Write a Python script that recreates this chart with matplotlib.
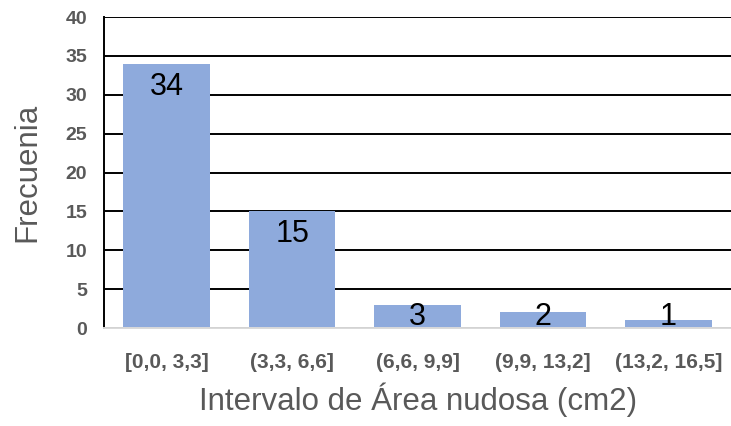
import numpy as np
import matplotlib.pyplot as plt

plt.rcParams['font.family'] = ['Liberation Sans', 'DejaVu Sans']

# Data
categories = ['[0,0, 3,3]', '(3,3, 6,6]', '(6,6, 9,9]', '(9,9, 13,2]', '(13,2, 16,5]']
frecuencia = [34, 15, 3, 2, 1]

bar_color = '#8eaadc'
grey = '#595959'

fig = plt.figure(figsize=(7.31, 4.26), dpi=100)
ax = fig.add_axes([0.1423, 0.230, 0.858, 0.730])

x = np.arange(len(categories))
ax.bar(x, frecuencia, width=0.69, color=bar_color, zorder=2)

ax.set_xlim(-0.5, len(categories) - 0.5)
ax.set_ylim(0, 40)
ax.set_yticks(np.arange(0, 41, 5))
ax.yaxis.grid(True, color='black', lw=1.4, zorder=1)
ax.set_axisbelow(True)

for side in ['top', 'right']:
    ax.spines[side].set_visible(False)
ax.spines['left'].set_color('black')
ax.spines['left'].set_linewidth(1.4)
ax.spines['bottom'].set_color('#d9d9d9')
ax.spines['bottom'].set_linewidth(1.4)

ax.set_xticks(x)
ax.set_xticklabels(categories)
ax.tick_params(axis='y', length=0, pad=12, labelsize=14, labelcolor=grey)
ax.tick_params(axis='x', length=0, pad=18, labelsize=15, labelcolor=grey)
for lab in ax.get_yticklabels() + ax.get_xticklabels():
    lab.set_fontweight('bold')

# value labels: inside end for tall bars, resting near the base for short ones
for xi, v in zip(x, frecuencia):
    if v >= 5:
        ax.annotate(str(v), (xi, v), xytext=(0, -22.3), textcoords='offset points',
                    ha='center', va='baseline', fontsize=22, color='black', zorder=3)
    else:
        ax.annotate(str(v), (xi, 0), xytext=(0, 2.2), textcoords='offset points',
                    ha='center', va='baseline', fontsize=22, color='black', zorder=3)

ax.set_ylabel('Frecuenia', fontsize=22.5, color=grey)
ax.yaxis.set_label_coords(-0.098, 0.5)
ax.set_xlabel('Intervalo de Área nudosa (cm2)', fontsize=22.5, color=grey)
ax.xaxis.set_label_coords(0.5, -0.175)

fig.savefig('out.png', dpi=100)
